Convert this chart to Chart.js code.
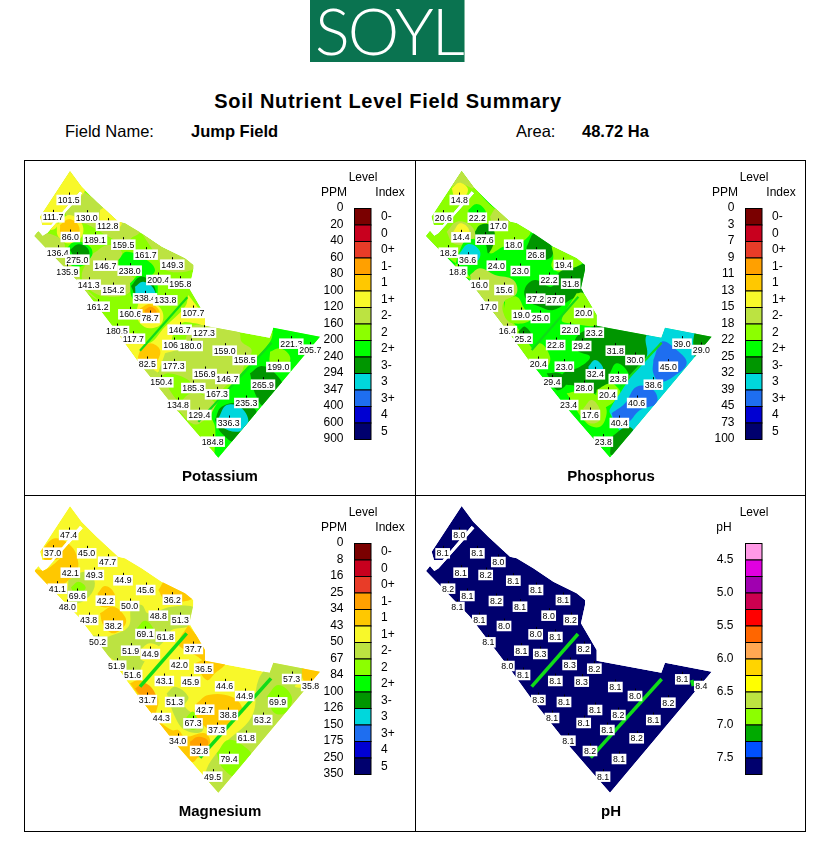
<!DOCTYPE html>
<html>
<head>
<meta charset="utf-8">
<title>Soil Nutrient Level Field Summary</title>
<script src="https://cdn.jsdelivr.net/npm/chart.js@4"></script>
<style>
html, body { margin: 0; padding: 0; background: #fff; }
body { width: 831px; height: 849px; position: relative; overflow: hidden; font-family: "Liberation Sans", Arial, sans-serif; color: #000; }
.abs { position: absolute; white-space: nowrap; }
#logo { left: 310px; top: 0; width: 154px; height: 62px; background: #0a7350; border-right: 1px solid #7fb8a0; overflow: hidden; }
#logo span { position: absolute; left: 5px; top: -9px; font: 300 65px Lato, sans-serif; color: #fff; letter-spacing: -2px; }
#title { left: 0; width: 776px; top: 90px; text-align: center; font-weight: bold; font-size: 20px; letter-spacing: 0.7px; }
.info { top: 122px; font-size: 16.5px; }
.b { font-weight: bold; }
canvas { position: absolute; }
.rule { position: absolute; background: #000; }
</style>
</head>
<body>
<div id="logo" class="abs"><span>SOYL</span></div>
<div id="title" class="abs">Soil Nutrient Level Field Summary</div>
<div class="abs info" style="left:65px">Field Name:</div>
<div class="abs info b" style="left:191px">Jump Field</div>
<div class="abs info" style="left:516px">Area:</div>
<div class="abs info b" style="left:582px">48.72 Ha</div>

<canvas id="kChart" width="391" height="335" style="left:24px;top:160px"></canvas>
<canvas id="pChart" width="391" height="335" style="left:415px;top:160px"></canvas>
<canvas id="mgChart" width="391" height="335" style="left:24px;top:495px"></canvas>
<canvas id="phChart" width="391" height="335" style="left:415px;top:495px"></canvas>

<div class="rule" style="left:24px;top:160px;width:782px;height:1px"></div>
<div class="rule" style="left:24px;top:495px;width:782px;height:1px"></div>
<div class="rule" style="left:24px;top:831px;width:782px;height:1px"></div>
<div class="rule" style="left:24px;top:160px;width:1px;height:672px"></div>
<div class="rule" style="left:415px;top:160px;width:1px;height:672px"></div>
<div class="rule" style="left:805px;top:160px;width:1px;height:672px"></div>

<script>
// legend scales
const nutrientColors = ['#7a0000','#c8001e','#e83c28','#ffa000','#ffc800','#f8f82a','#bce341','#8cff00','#00ff00','#009600','#00d7dc','#1e6ef0','#0000d2','#00006e'];
const phColors = ['#ff99e6','#e000e0','#a000b0','#cc0050','#ff0000','#ff6600','#ffa852','#ffd400','#ffff00','#bce341','#8cff00','#00aa00','#0050ff','#00006e'];
const indexLabels = ['0-','0','0+','1-','1','1+','2-','2','2+','3-','3','3+','4','5'];
const kPpm = ['0','20','40','60','80','100','120','160','200','240','294','347','400','600','900'];
const pPpm = ['0','3','7','9','11','13','15','18','22','25','32','39','45','73','100'];
const mgPpm = ['0','8','16','25','34','43','50','67','84','100','126','150','175','250','350'];
const phTicks = ['4.5','5.0','5.5','6.0','6.5','7.0','7.5'];

// field boundary, west slit included (x, y)
const fieldOutline = [135,33, 170,80, 215,125, 280,185, 300,190, 350,220, 410,260, 480,295, 505,315, 505,330, 493,385, 540,465, 540,497, 734,533, 745,503, 885,530, 580,893, 520,825, 455,750, 340,605, 275,515, 160,365, 28,228, 40,213, 53,228, 66,220, 173,100, 165,93, 78,195, 52,195, 45,170];

// sample results
const kValues = ['101.5','111.7','130.0','112.8','86.0','189.1','159.5','136.4','275.0','161.7','146.7','238.0','149.3','135.9','200.4','195.8','141.3','154.2','338.4','133.8','161.2','160.6','78.7','107.7','180.5','146.7','127.3','117.7','106.9','180.0','159.0','221.3','205.7','158.5','82.5','177.3','199.0','156.9','146.7','150.4','185.3','265.9','167.3','235.3','134.8','129.4','336.3','184.8'];
const kX = [131,84,185,248,136,210,295,98,157,362,241,314,442,127,400,466,191,265,360,421,218,316,375,505,276,464,537,325,448,497,599,799,856,659,367,446,760,539,607,409,505,714,576,664,459,523,611,563];
const kY = [120,172,173,197,231,239,254,278,299,284,317,332,314,335,360,371,374,390,415,421,440,463,474,459,513,509,518,536,555,558,572,551,569,600,612,619,621,642,657,667,684,674,703,729,735,765,789,845];

const pValues = ['14.8','20.6','22.2','17.0','14.4','27.6','18.0','18.2','36.6','26.8','24.0','23.0','19.4','18.8','22.2','31.8','16.0','15.6','27.2','27.0','17.0','19.0','25.0','20.0','16.4','22.0','23.2','25.2','22.8','29.2','31.8','39.0','29.0','30.0','20.4','23.0','45.0','32.4','23.8','29.4','28.0','38.6','20.4','40.6','23.4','17.6','40.4','23.8'];
const pX = [118,70,172,235,123,195,281,85,143,348,229,301,430,113,387,452,178,252,347,406,205,304,361,491,262,450,523,309,407,485,586,786,844,645,355,433,745,526,595,396,492,700,563,650,446,511,598,550];
const pY = [120,173,173,198,232,239,254,278,299,284,317,333,315,335,360,371,375,390,416,421,440,465,474,459,513,509,518,536,555,558,572,551,570,600,612,620,620,643,657,667,684,674,704,729,735,765,789,845];

const mgValues = ['47.4','37.0','45.0','47.7','42.1','49.3','44.9','41.1','69.6','45.6','42.2','50.0','36.2','48.0','48.8','51.3','43.8','38.2','69.1','61.8','50.2','51.9','44.9','37.7','51.9','42.0','36.5','51.6','43.1','45.9','44.6','57.3','35.8','44.9','31.7','51.3','69.9','42.7','38.8','44.3','67.3','63.2','37.3','61.8','34.0','32.8','79.4','49.5'];
const mgX = [131,83,185,248,136,208,294,97,157,362,241,314,442,127,400,466,191,265,360,421,218,317,376,505,275,463,536,323,418,497,599,800,857,659,367,449,758,539,610,409,504,713,575,664,458,524,612,563];
const mgY = [105,158,160,185,218,225,241,266,288,270,302,318,299,321,347,360,360,377,402,410,425,452,462,447,497,494,506,525,543,545,559,537,558,588,600,606,607,629,645,654,670,660,690,714,723,753,777,830];

const phValues = ['8.0','8.1','8.1','8.0','8.1','8.2','8.1','8.2','8.1','8.1','8.2','8.1','8.1','8.1','8.0','8.2','8.1','8.0','8.0','8.1','8.1','8.1','8.3','8.2','8.0','8.3','8.2','8.1','8.1','8.3','8.1','8.1','8.4','8.0','8.3','8.1','8.2','8.1','8.2','8.1','8.1','8.1','8.1','8.2','8.1','8.2','8.1','8.1'];
const phX = [118,68,172,235,122,197,280,84,142,348,228,300,429,112,386,452,178,252,347,406,205,304,361,491,262,449,523,309,406,485,586,787,844,645,355,432,745,525,595,396,491,700,562,650,445,510,597,549];
const phY = [105,160,160,186,218,225,242,266,288,270,303,320,300,321,347,360,360,378,403,411,427,452,462,447,498,495,506,525,543,545,561,538,558,588,600,606,608,630,645,654,669,660,690,715,722,753,777,830];

// tramlines
const kTrams = [[487,412,345,572],[740,548,520,785]];
const pTrams = [[475,410,335,570],[725,548,600,680]];
const mgTrams = [[485,400,345,560],[738,535,525,773]];
const phTrams = [[474,402,335,560],[725,537,512,773],[815,540,820,558]];

// contour zones: [index level, [x, y, ...]], painted in order
const kZones = [
  [6,[150,80,230,130,310,190,345,215,315,240,330,265,260,235,190,195,140,180,120,150]],
  [5,[135,25,180,85,150,125,105,165,92,205,60,205,35,170]],
  [5,[225,150,250,140,290,180,280,205,240,205,225,180]],
  [5,[95,195,132,165,170,190,170,230,132,250,100,230]],
  [4,[105,195,132,178,160,195,160,225,132,240,108,225]],
  [6,[25,215,85,225,118,250,118,290,160,330,170,370,225,425,160,375,25,240]],
  [8,[120,270,150,245,195,260,200,290,165,320,130,310]],
  [9,[135,270,160,253,188,265,190,290,150,290]],
  [6,[205,280,250,255,290,275,280,320,330,360,310,400,270,410,210,400,170,350]],
  [8,[280,300,305,275,365,300,390,330,370,350,320,345,285,325]],
  [6,[350,220,410,260,480,295,510,320,480,335,420,330,400,300,380,265]],
  [8,[315,370,345,345,390,360,398,395,385,430,340,430,320,410]],
  [9,[318,378,345,350,372,360,392,395,372,422,340,422]],
  [10,[330,380,355,365,385,385,390,420,360,430,335,410]],
  [5,[490,405,530,460,545,497,510,490,470,490,440,545,470,560,430,590,395,640,350,630,305,560,285,530,330,520,370,550,420,500,480,440]],
  [5,[340,430,375,425,410,450,410,490,375,505,345,490,335,460]],
  [4,[345,445,375,432,402,450,400,475,370,490,350,475]],
  [3,[358,450,378,440,395,455,385,470,365,470]],
  [4,[345,570,375,550,405,570,395,610,385,630,360,620,340,600]],
  [6,[420,580,470,560,500,500,560,500,640,515,650,545,680,570,660,610,645,645,600,680,560,720,530,700,500,680,490,660,430,640,400,650]],
  [6,[340,610,400,640,440,700,470,745,450,755]],
  [6,[465,755,460,740,500,700,560,720,570,740,525,790,500,790]],
  [8,[745,495,895,525,580,900,570,800,560,760,640,650,735,545]],
  [7,[735,575,765,565,795,590,785,620,755,635,735,610]],
  [9,[675,640,710,618,750,640,775,690,720,740,690,700]],
  [9,[570,780,590,740,650,730,695,760,635,845,590,820]],
  [10,[580,775,605,735,650,745,670,790,640,815,590,800]]
];

const pZones = [
  [7,[125,25,170,90,230,150,330,210,300,250,250,260,210,280,205,245,130,270,110,300,110,340,160,360,240,400,260,460,290,500,340,570,380,620,320,600,240,500,150,350,15,225,35,150]],
  [6,[125,30,150,60,160,85,120,70,95,80]],
  [5,[95,85,118,68,143,85,135,108,105,110]],
  [8,[145,150,170,132,195,150,195,175,150,175]],
  [6,[210,170,230,145,265,170,260,205,225,210]],
  [6,[80,215,110,185,150,195,165,225,140,250,100,250]],
  [5,[100,215,120,190,145,205,145,235,105,235]],
  [9,[165,215,180,195,210,195,225,230,205,280,195,250,170,245]],
  [8,[115,280,140,240,190,250,190,290,140,320,120,310]],
  [10,[118,280,145,252,178,270,175,300,140,310,125,300]],
  [9,[320,260,345,218,390,250,395,290,345,300,320,290]],
  [7,[395,260,430,260,490,300,470,320,420,335,395,320,400,290]],
  [9,[500,305,495,350,490,400,450,420,400,450,360,440,320,420,315,385,345,360,395,380,420,335,470,320]],
  [6,[150,345,180,325,225,345,280,360,290,400,250,430,255,470,280,495,230,490,190,430,160,385]],
  [7,[255,420,290,410,310,440,330,480,280,490,255,470]],
  [9,[295,515,315,500,335,530,305,540]],
  [7,[470,400,490,400,535,460,535,495,450,490,425,480]],
  [9,[530,495,680,522,690,570,650,625,620,660,590,690,560,680,500,710,470,680,425,670,430,640,480,620,510,590,470,570,470,530]],
  [10,[505,620,525,600,548,620,545,640,510,640]],
  [8,[565,650,590,610,625,640,620,680,590,690,570,680]],
  [7,[530,690,570,670,590,680,600,700,560,740,530,730]],
  [10,[735,490,825,510,820,550,835,590,630,825,570,760,580,730,600,700,640,640,680,590,680,525]],
  [11,[700,600,725,545,770,570,800,610,760,650,720,665,700,640]],
  [11,[575,760,615,730,650,680,700,690,710,730,660,750,620,790,585,785]],
  [9,[825,510,885,520,830,595,820,550]],
  [9,[575,830,620,800,640,815,575,885]],
  [7,[440,700,500,690,550,730,560,760,540,800,500,790]],
  [6,[490,745,515,720,540,750,535,785,500,785]],
  [7,[330,580,360,550,390,590,380,620,350,610]],
  [9,[380,640,420,640,440,670,410,690]]
];

const mgZones = [
  [4,[50,150,90,115,140,140,160,190,150,220,120,250,100,260,100,280,60,260,30,210,60,210,110,170,90,180,60,180]],
  [6,[130,240,180,215,208,240,200,280,160,310,130,300]],
  [7,[138,262,160,245,182,262,165,280,145,275]],
  [4,[218,280,240,258,268,280,265,315,225,318]],
  [4,[225,340,265,320,300,350,300,375,265,400,235,375]],
  [4,[400,270,430,235,505,290,470,305,420,300]],
  [6,[250,410,310,380,320,320,350,315,370,340,440,320,510,325,495,375,440,390,430,410,370,470,350,500,340,530,310,535,280,490,200,440,190,410]],
  [7,[335,385,360,362,385,385,380,400,340,410]],
  [5,[345,450,375,430,410,450,385,480,350,480]],
  [4,[490,375,545,450,545,485,510,465,480,450,460,430]],
  [4,[510,490,540,480,600,490,570,520,545,540]],
  [4,[315,550,345,540,380,570,400,600,395,650,440,690,460,690,480,710,540,700,555,730,520,770,500,785,400,670]],
  [3,[330,565,360,550,390,580,380,600,350,590]],
  [3,[495,725,520,710,550,725,525,770,500,760]],
  [6,[425,580,450,560,490,590,480,620,530,660,530,695,480,690,450,650]],
  [7,[485,650,505,635,525,670,505,690,485,675]],
  [4,[515,610,550,585,620,590,650,620,640,650,570,690,540,680,510,640]],
  [6,[745,480,835,500,830,540,810,560,855,570,580,885,540,830,590,740,680,650,700,540]],
  [7,[725,590,760,555,800,590,785,635,750,640]],
  [7,[575,760,610,720,665,745,680,775,635,830,590,800]],
  [4,[830,505,895,510,860,565,835,540]]
];

const phZones = [];

const PANELS = [
  { id:'kChart', title:'Potassium', base:7, zones:kZones, trams:kTrams, values:kValues, xs:kX, ys:kY, ticks:kPpm, unit:'PPM', colors:nutrientColors, shift:[0,0], xMin:-3, tramWidth:2.2 },
  { id:'pChart', title:'Phosphorus', base:8, zones:pZones, trams:pTrams, values:pValues, xs:pX, ys:pY, ticks:pPpm, unit:'PPM', colors:nutrientColors, shift:[-10,0], xMin:-15, tramWidth:2.2 },
  { id:'mgChart', title:'Magnesium', base:5, zones:mgZones, trams:mgTrams, values:mgValues, xs:mgX, ys:mgY, ticks:mgPpm, unit:'PPM', colors:nutrientColors, shift:[0,-15], xMin:-3, tramWidth:3.5 },
  { id:'phChart', title:'pH', base:13, zones:phZones, trams:phTrams, values:phValues, xs:phX, ys:phY, ticks:phTicks, unit:'pH', colors:phColors, shift:[-10,-15], xMin:-15, tramWidth:3.5 }
];

const FONT = '"Liberation Sans", Arial, sans-serif';

function toPoints(flat, dx, dy) {
  const pts = [];
  for (let i = 0; i < flat.length; i += 2) pts.push({ x: flat[i] + (dx || 0), y: flat[i + 1] + (dy || 0) });
  return pts;
}

// keep the contour fills inside the field boundary
const fieldClip = {
  id: 'fieldClip',
  beforeDatasetsDraw(chart, args, opts) {
    const { ctx, scales: { x, y } } = chart;
    ctx.save();
    ctx.beginPath();
    opts.outline.forEach((p, i) => {
      const px = x.getPixelForValue(p.x), py = y.getPixelForValue(p.y);
      i ? ctx.lineTo(px, py) : ctx.moveTo(px, py);
    });
    ctx.closePath();
    ctx.clip();
  },
  afterDatasetsDraw(chart) { chart.ctx.restore(); }
};

// white value boxes and the little tick over each one
const sampleBoxes = {
  id: 'sampleBoxes',
  afterDatasetsDraw(chart, args, opts) {
    const { ctx } = chart;
    const meta = chart.getDatasetMeta(chart.data.datasets.length - 1);
    ctx.save();
    ctx.font = '8.8px ' + FONT;
    ctx.textAlign = 'center';
    ctx.textBaseline = 'middle';
    meta.data.forEach((pt, i) => {
      const w = ctx.measureText(opts.values[i]).width + 2.5;
      ctx.fillStyle = '#000';
      ctx.fillRect(Math.round(pt.x), pt.y - 7.5, 1, 2.5);
      ctx.fillStyle = '#fff';
      ctx.fillRect(pt.x - w / 2, pt.y - 5.25, w, 10.5);
      ctx.fillStyle = '#000';
      ctx.fillText(opts.values[i], pt.x, pt.y + 0.5);
    });
    ctx.restore();
  }
};

// colour key and panel title
const colourKey = {
  id: 'colourKey',
  afterDraw(chart, args, opts) {
    const { ctx } = chart;
    const left = 330.5, width = 16.5, top = 48.5, step = 16.5;
    ctx.save();
    opts.colors.forEach((c, i) => {
      ctx.fillStyle = c;
      ctx.fillRect(left, top + i * step, width, step);
      ctx.strokeStyle = '#000';
      ctx.lineWidth = 1;
      ctx.strokeRect(left, top + i * step, width, step);
    });
    ctx.fillStyle = '#000';
    ctx.font = '12px ' + FONT;
    ctx.textBaseline = 'middle';
    ctx.textAlign = 'center';
    ctx.fillText('Level', 339, 18);
    if (opts.unit === 'PPM') {
      ctx.fillText('PPM', 310, 32.5);
      ctx.fillText('Index', 366, 32.5);
      ctx.textAlign = 'right';
      opts.ticks.forEach((t, i) => ctx.fillText(t, 319.5, 48 + i * step));
      ctx.textAlign = 'left';
      indexLabels.forEach((t, i) => ctx.fillText(t, 357, 57 + i * step));
    } else {
      ctx.fillText('pH', 309, 32.5);
      ctx.textAlign = 'right';
      opts.ticks.forEach((t, i) => ctx.fillText(t, 318.5, 64.5 + i * step * 2));
    }
    ctx.textAlign = 'center';
    ctx.font = 'bold 15px ' + FONT;
    ctx.fillText(opts.title, 196, 317);
    ctx.restore();
  }
};

PANELS.forEach(function (p) {
  const outline = toPoints(fieldOutline, p.shift[0], p.shift[1]);
  const datasets = [];
  datasets.push({ data: outline, showLine: true, tension: 0, fill: 'shape', backgroundColor: p.colors[p.base], borderWidth: 0, pointRadius: 0 });
  p.zones.forEach(function (z) {
    const pts = toPoints(z[1]);
    pts.push(pts[0]);
    datasets.push({ data: pts, showLine: true, tension: 0.4, fill: 'shape', backgroundColor: p.colors[z[0]], borderWidth: 0, pointRadius: 0 });
  });
  p.trams.forEach(function (t) {
    datasets.push({ data: toPoints(t), showLine: true, tension: 0, fill: false, borderColor: '#10dc18', borderWidth: p.tramWidth, pointRadius: 0 });
  });
  datasets.push({ data: p.xs.map((x, i) => ({ x: x, y: p.ys[i] })), showLine: false, pointRadius: 0 });
  // first dataset has to paint first
  datasets.forEach((d, i) => { d.order = datasets.length - i; });

  new Chart(document.getElementById(p.id), {
    type: 'scatter',
    data: { datasets: datasets },
    options: {
      responsive: false,
      animation: false,
      events: [],
      layout: { padding: 0 },
      scales: {
        x: { type: 'linear', display: false, min: p.xMin, max: p.xMin + 1173 },
        y: { type: 'linear', display: false, reverse: true, min: p.shift[1], max: p.shift[1] + 1005 }
      },
      plugins: {
        legend: { display: false },
        tooltip: { enabled: false },
        fieldClip: { outline: outline },
        sampleBoxes: { values: p.values },
        colourKey: { colors: p.colors, ticks: p.ticks, unit: p.unit, title: p.title }
      }
    },
    plugins: [fieldClip, sampleBoxes, colourKey]
  });
});
</script>
</body>
</html>
